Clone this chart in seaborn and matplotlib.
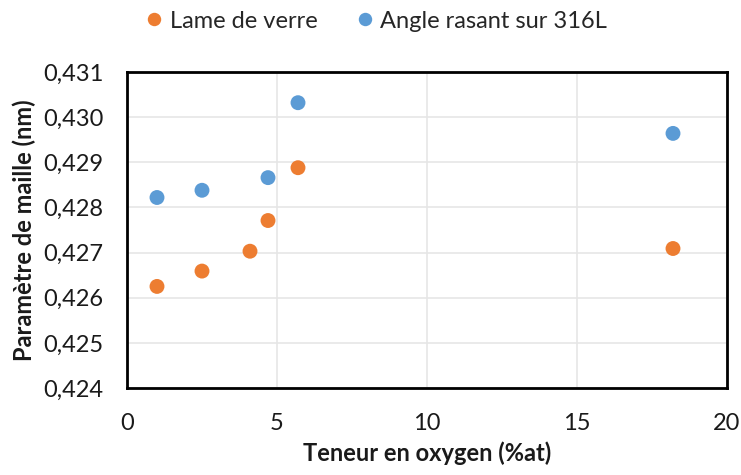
import matplotlib
matplotlib.use("Agg")
import matplotlib.pyplot as plt
import matplotlib.ticker as mticker
import seaborn as sns
import pandas as pd

# Lattice parameter vs oxygen content, two sample types
series_names = ["Lame de verre", "Angle rasant sur 316L"]
verre_x = [1.0, 2.5, 4.1, 4.7, 5.7, 18.2]
verre_y = [0.42625, 0.42659, 0.42703, 0.42771, 0.42888, 0.42709]
rasant_x = [1.0, 2.5, 4.7, 5.7, 18.2]
rasant_y = [0.42822, 0.42838, 0.42866, 0.43032, 0.42964]
x_ticks = [0, 5, 10, 15, 20]
y_ticks = [0.424, 0.425, 0.426, 0.427, 0.428, 0.429, 0.430, 0.431]

df = pd.DataFrame({
    "x": verre_x + rasant_x,
    "y": verre_y + rasant_y,
    "serie": [series_names[0]] * len(verre_x) + [series_names[1]] * len(rasant_x),
})

sns.set_theme(style="white")
plt.rcParams["font.family"] = ["Lato", "DejaVu Sans"]

W, H = 741, 475
fig = plt.figure(figsize=(W / 100, H / 100), dpi=100)
ax_left, ax_right, ax_top, ax_bottom = 127, 727, 72, 388
ax = fig.add_axes([ax_left / W, 1 - ax_bottom / H,
                   (ax_right - ax_left) / W, (ax_bottom - ax_top) / H])

palette = {series_names[0]: "#ED7D31", series_names[1]: "#5B9BD5"}
sns.scatterplot(data=df, x="x", y="y", hue="serie", palette=palette,
                s=115, edgecolor="none", ax=ax, zorder=3, legend=True)

ax.set_xlim(0, 20)
ax.set_ylim(0.424, 0.431)
ax.set_xticks(x_ticks)
ax.set_yticks(y_ticks)
ax.yaxis.set_major_formatter(mticker.FuncFormatter(lambda v, p: f"{v:.3f}".replace(".", ",")))
ax.xaxis.set_major_formatter(mticker.FuncFormatter(lambda v, p: f"{v:g}"))

ax.grid(True, color="#E6E6E6", linewidth=1.2, zorder=0)
for sp in ax.spines.values():
    sp.set_color("black")
    sp.set_linewidth(2)
ax.tick_params(direction="in", length=7, width=2, colors="black",
               labelsize=17, labelcolor="#1a1a1a")
ax.tick_params(axis="x", pad=18)
ax.tick_params(axis="y", pad=17)

ax.set_xlabel("Teneur en oxygen (%at)", fontsize=17, fontweight="bold", color="#1a1a1a")
ax.set_ylabel("Paramètre de maille (nm)", fontsize=17, fontweight="bold", color="#1a1a1a")
ax_h = ax_bottom - ax_top
ax_w = ax_right - ax_left
ax.xaxis.set_label_coords(0.5, (ax_bottom - 453) / ax_h)
ax.xaxis.label.set_va("center")
ax.yaxis.set_label_coords((24 - ax_left) / ax_w, 0.5)
ax.yaxis.label.set_va("center")

handles, labels = ax.get_legend_handles_labels()
ax.get_legend().remove()
fig.legend(handles, labels, loc="center", bbox_to_anchor=(376 / W, 1 - 21 / H),
           ncol=2, frameon=False, fontsize=17, handlelength=0.8,
           handletextpad=0.25, columnspacing=1.6, markerscale=0.9,
           borderaxespad=0, borderpad=0)

fig.savefig("out.png", dpi=100)
